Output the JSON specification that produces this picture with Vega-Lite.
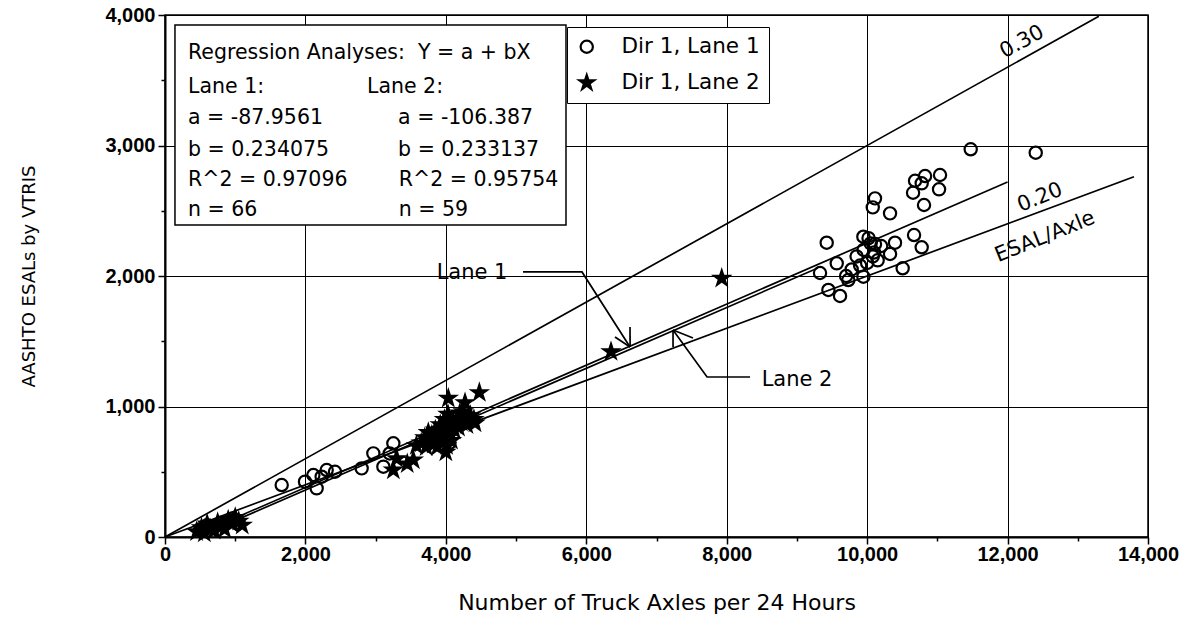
{
  "$schema": "https://vega.github.io/schema/vega-lite/v6.json",
  "width": 983,
  "height": 522,
  "autosize": {"type": "none"},
  "padding": {"left": 165, "top": 15, "right": 50, "bottom": 88},
  "background": "white",
  "config": {
    "font": "DejaVu Sans",
    "view": {"stroke": "black", "strokeWidth": 1.5},
    "axis": {"domainColor": "black", "domainWidth": 2, "tickColor": "black", "tickWidth": 1.5, "gridColor": "black", "gridWidth": 1, "labelColor": "black", "titleColor": "black", "titleFont": "DejaVu Sans", "titleFontWeight": "normal"}
  },
  "datasets": {
    "pts": [
      {"s": "Dir 1, Lane 1", "x": 11475, "y": 2971}, {"s": "Dir 1, Lane 1", "x": 12401, "y": 2945},
      {"s": "Dir 1, Lane 1", "x": 10682, "y": 2730}, {"s": "Dir 1, Lane 1", "x": 10825, "y": 2766},
      {"s": "Dir 1, Lane 1", "x": 11038, "y": 2774}, {"s": "Dir 1, Lane 1", "x": 10777, "y": 2710},
      {"s": "Dir 1, Lane 1", "x": 10654, "y": 2638}, {"s": "Dir 1, Lane 1", "x": 11024, "y": 2664},
      {"s": "Dir 1, Lane 1", "x": 10810, "y": 2544}, {"s": "Dir 1, Lane 1", "x": 10112, "y": 2595},
      {"s": "Dir 1, Lane 1", "x": 10080, "y": 2526}, {"s": "Dir 1, Lane 1", "x": 10326, "y": 2480},
      {"s": "Dir 1, Lane 1", "x": 9424, "y": 2255}, {"s": "Dir 1, Lane 1", "x": 10397, "y": 2255},
      {"s": "Dir 1, Lane 1", "x": 10668, "y": 2314}, {"s": "Dir 1, Lane 1", "x": 10777, "y": 2220},
      {"s": "Dir 1, Lane 1", "x": 10326, "y": 2169}, {"s": "Dir 1, Lane 1", "x": 10506, "y": 2059},
      {"s": "Dir 1, Lane 1", "x": 9946, "y": 2301}, {"s": "Dir 1, Lane 1", "x": 10112, "y": 2245},
      {"s": "Dir 1, Lane 1", "x": 9567, "y": 2097}, {"s": "Dir 1, Lane 1", "x": 9329, "y": 2023},
      {"s": "Dir 1, Lane 1", "x": 9448, "y": 1893}, {"s": "Dir 1, Lane 1", "x": 9614, "y": 1847},
      {"s": "Dir 1, Lane 1", "x": 9946, "y": 1995}, {"s": "Dir 1, Lane 1", "x": 9732, "y": 1969},
      {"s": "Dir 1, Lane 1", "x": 9850, "y": 2150}, {"s": "Dir 1, Lane 1", "x": 9950, "y": 2200},
      {"s": "Dir 1, Lane 1", "x": 10000, "y": 2100}, {"s": "Dir 1, Lane 1", "x": 10050, "y": 2250},
      {"s": "Dir 1, Lane 1", "x": 10100, "y": 2180}, {"s": "Dir 1, Lane 1", "x": 10150, "y": 2120},
      {"s": "Dir 1, Lane 1", "x": 9900, "y": 2080}, {"s": "Dir 1, Lane 1", "x": 10020, "y": 2290},
      {"s": "Dir 1, Lane 1", "x": 9780, "y": 2050}, {"s": "Dir 1, Lane 1", "x": 10200, "y": 2230},
      {"s": "Dir 1, Lane 1", "x": 9700, "y": 2000}, {"s": "Dir 1, Lane 1", "x": 10080, "y": 2150},
      {"s": "Dir 1, Lane 1", "x": 1662, "y": 398}, {"s": "Dir 1, Lane 1", "x": 1994, "y": 424},
      {"s": "Dir 1, Lane 1", "x": 2113, "y": 475}, {"s": "Dir 1, Lane 1", "x": 2160, "y": 373},
      {"s": "Dir 1, Lane 1", "x": 2303, "y": 513}, {"s": "Dir 1, Lane 1", "x": 2421, "y": 500},
      {"s": "Dir 1, Lane 1", "x": 2231, "y": 462}, {"s": "Dir 1, Lane 1", "x": 2801, "y": 526},
      {"s": "Dir 1, Lane 1", "x": 2967, "y": 641}, {"s": "Dir 1, Lane 1", "x": 3110, "y": 539},
      {"s": "Dir 1, Lane 1", "x": 3252, "y": 718}, {"s": "Dir 1, Lane 1", "x": 3200, "y": 640},
      {"s": "Dir 1, Lane 1", "x": 3750, "y": 760}, {"s": "Dir 1, Lane 1", "x": 3850, "y": 800},
      {"s": "Dir 1, Lane 1", "x": 3900, "y": 740}, {"s": "Dir 1, Lane 1", "x": 3950, "y": 820},
      {"s": "Dir 1, Lane 1", "x": 4000, "y": 780}, {"s": "Dir 1, Lane 1", "x": 4050, "y": 720},
      {"s": "Dir 1, Lane 1", "x": 4100, "y": 850}, {"s": "Dir 1, Lane 1", "x": 3980, "y": 700},
      {"s": "Dir 1, Lane 1", "x": 500, "y": 60}, {"s": "Dir 1, Lane 1", "x": 600, "y": 90},
      {"s": "Dir 1, Lane 1", "x": 700, "y": 80}, {"s": "Dir 1, Lane 1", "x": 800, "y": 110},
      {"s": "Dir 1, Lane 1", "x": 900, "y": 120}, {"s": "Dir 1, Lane 1", "x": 950, "y": 140},
      {"s": "Dir 1, Lane 1", "x": 1000, "y": 130}, {"s": "Dir 1, Lane 1", "x": 1050, "y": 110},
      {"s": "Dir 1, Lane 2", "x": 450, "y": 40}, {"s": "Dir 1, Lane 2", "x": 520, "y": 70},
      {"s": "Dir 1, Lane 2", "x": 560, "y": 30}, {"s": "Dir 1, Lane 2", "x": 600, "y": 100},
      {"s": "Dir 1, Lane 2", "x": 650, "y": 60}, {"s": "Dir 1, Lane 2", "x": 700, "y": 50},
      {"s": "Dir 1, Lane 2", "x": 750, "y": 110}, {"s": "Dir 1, Lane 2", "x": 800, "y": 80},
      {"s": "Dir 1, Lane 2", "x": 850, "y": 60}, {"s": "Dir 1, Lane 2", "x": 900, "y": 130},
      {"s": "Dir 1, Lane 2", "x": 950, "y": 100}, {"s": "Dir 1, Lane 2", "x": 1000, "y": 150},
      {"s": "Dir 1, Lane 2", "x": 1050, "y": 120}, {"s": "Dir 1, Lane 2", "x": 1100, "y": 90},
      {"s": "Dir 1, Lane 2", "x": 3252, "y": 513}, {"s": "Dir 1, Lane 2", "x": 3537, "y": 590},
      {"s": "Dir 1, Lane 2", "x": 3450, "y": 560}, {"s": "Dir 1, Lane 2", "x": 3300, "y": 600},
      {"s": "Dir 1, Lane 2", "x": 4035, "y": 1063}, {"s": "Dir 1, Lane 2", "x": 4273, "y": 1029},
      {"s": "Dir 1, Lane 2", "x": 4477, "y": 1106}, {"s": "Dir 1, Lane 2", "x": 4249, "y": 960},
      {"s": "Dir 1, Lane 2", "x": 4415, "y": 873}, {"s": "Dir 1, Lane 2", "x": 4400, "y": 900},
      {"s": "Dir 1, Lane 2", "x": 3650, "y": 720}, {"s": "Dir 1, Lane 2", "x": 3700, "y": 760},
      {"s": "Dir 1, Lane 2", "x": 3720, "y": 690}, {"s": "Dir 1, Lane 2", "x": 3750, "y": 800},
      {"s": "Dir 1, Lane 2", "x": 3780, "y": 740}, {"s": "Dir 1, Lane 2", "x": 3800, "y": 780},
      {"s": "Dir 1, Lane 2", "x": 3820, "y": 710}, {"s": "Dir 1, Lane 2", "x": 3850, "y": 820},
      {"s": "Dir 1, Lane 2", "x": 3870, "y": 760}, {"s": "Dir 1, Lane 2", "x": 3880, "y": 690},
      {"s": "Dir 1, Lane 2", "x": 3900, "y": 800}, {"s": "Dir 1, Lane 2", "x": 3920, "y": 860},
      {"s": "Dir 1, Lane 2", "x": 3940, "y": 740}, {"s": "Dir 1, Lane 2", "x": 3960, "y": 780},
      {"s": "Dir 1, Lane 2", "x": 3980, "y": 900}, {"s": "Dir 1, Lane 2", "x": 4000, "y": 820},
      {"s": "Dir 1, Lane 2", "x": 4000, "y": 650}, {"s": "Dir 1, Lane 2", "x": 4010, "y": 700},
      {"s": "Dir 1, Lane 2", "x": 4020, "y": 760}, {"s": "Dir 1, Lane 2", "x": 4030, "y": 940},
      {"s": "Dir 1, Lane 2", "x": 4050, "y": 860}, {"s": "Dir 1, Lane 2", "x": 4060, "y": 800},
      {"s": "Dir 1, Lane 2", "x": 4080, "y": 740}, {"s": "Dir 1, Lane 2", "x": 4100, "y": 880},
      {"s": "Dir 1, Lane 2", "x": 4120, "y": 820}, {"s": "Dir 1, Lane 2", "x": 4150, "y": 900},
      {"s": "Dir 1, Lane 2", "x": 4180, "y": 840}, {"s": "Dir 1, Lane 2", "x": 4200, "y": 950},
      {"s": "Dir 1, Lane 2", "x": 4220, "y": 880}, {"s": "Dir 1, Lane 2", "x": 4250, "y": 910},
      {"s": "Dir 1, Lane 2", "x": 4300, "y": 860}, {"s": "Dir 1, Lane 2", "x": 4350, "y": 930},
      {"s": "Dir 1, Lane 2", "x": 3580, "y": 700},
      {"s": "Dir 1, Lane 2", "x": 6352, "y": 1420}, {"s": "Dir 1, Lane 2", "x": 7929, "y": 1982}
    ],
    "lines": [
      {"id": "r30", "x": 0, "y": 0}, {"id": "r30", "x": 13300, "y": 3990},
      {"id": "r20", "x": 0, "y": 0}, {"id": "r20", "x": 13800, "y": 2760},
      {"id": "lane1", "x": 450, "y": 17}, {"id": "lane1", "x": 12000, "y": 2721},
      {"id": "lane2", "x": 500, "y": 10}, {"id": "lane2", "x": 9300, "y": 2062},
      {"id": "lead1", "x": 5099, "y": 2031}, {"id": "lead1", "x": 5939, "y": 2031}, {"id": "lead1", "x": 6623, "y": 1456},
      {"id": "lead2", "x": 7235, "y": 1586}, {"id": "lead2", "x": 7720, "y": 1226}, {"id": "lead2", "x": 8332, "y": 1226},
      {"id": "head1a", "x": 6623, "y": 1609}, {"id": "head1a", "x": 6624, "y": 1456},
      {"id": "head1b", "x": 6409, "y": 1533}, {"id": "head1b", "x": 6623, "y": 1456},
      {"id": "head2a", "x": 7235, "y": 1586}, {"id": "head2a", "x": 7236, "y": 1456},
      {"id": "head2b", "x": 7235, "y": 1586}, {"id": "head2b", "x": 7520, "y": 1525}
    ]
  },
  "layer": [
    {
      "data": {"name": "lines"},
      "mark": {"type": "line", "color": "black", "strokeWidth": 1.7},
      "encoding": {
        "x": {"field": "x", "type": "quantitative", "scale": {"domain": [0, 14000], "nice": false},
          "axis": {"title": "Number of Truck Axles per 24 Hours", "titleFontSize": 22, "labelFont": "Liberation Sans", "labelFontSize": 20, "labelFontWeight": "bold", "values": [0,1000,2000,3000,4000,5000,6000,7000,8000,9000,10000,11000,12000,13000,14000],
            "labelExpr": "datum.value % 2000 === 0 ? format(datum.value, ',') : ''",
            "tickSize": {"condition": {"test": "datum.value % 2000 === 0", "value": 7}, "value": 4},
            "gridOpacity": {"condition": {"test": "datum.value % 2000 === 0", "value": 1}, "value": 0},
            "labelPadding": 0, "titlePadding": 28, "labelFlush": false}},
        "y": {"field": "y", "type": "quantitative", "scale": {"domain": [0, 4000], "nice": false},
          "axis": {"title": "AASHTO ESALs by VTRIS", "titleFontSize": 18, "labelFont": "Liberation Sans", "labelFontSize": 20, "labelFontWeight": "bold", "values": [0,500,1000,1500,2000,2500,3000,3500,4000],
            "labelExpr": "datum.value % 1000 === 0 ? format(datum.value, ',') : ''",
            "tickSize": {"condition": {"test": "datum.value % 1000 === 0", "value": 7}, "value": 4},
            "gridOpacity": {"condition": {"test": "datum.value % 1000 === 0", "value": 1}, "value": 0},
            "labelPadding": 3, "titlePadding": 66}},
        "detail": {"field": "id"}
      }
    },
    {
      "data": {"name": "pts"},
      "mark": {"type": "point", "filled": true, "opacity": 1, "stroke": "black", "strokeWidth": 2.2},
      "encoding": {
        "x": {"field": "x", "type": "quantitative"},
        "y": {"field": "y", "type": "quantitative"},
        "shape": {"field": "s", "type": "nominal", "scale": {"domain": ["Dir 1, Lane 1", "Dir 1, Lane 2"], "range": ["circle", "M0,-1L0.225,-0.309L0.951,-0.309L0.363,0.118L0.588,0.809L0,0.382L-0.588,0.809L-0.363,0.118L-0.951,-0.309L-0.225,-0.309Z"]},
          "legend": {"title": null, "orient": "none", "legendX": 402, "legendY": 12, "strokeColor": "black", "fillColor": "white", "padding": 9, "labelFontSize": 21.5, "labelFont": "DejaVu Sans", "labelColor": "black", "rowPadding": 12, "labelOffset": 24, "symbolStrokeColor": "black", "symbolStrokeWidth": 2.2, "labelLimit": 400, "labelExpr": "datum.label + '\u00a0\u00a0\u00a0\u00a0\u00a0'"}},
        "fill": {"field": "s", "type": "nominal", "scale": {"domain": ["Dir 1, Lane 1", "Dir 1, Lane 2"], "range": ["transparent", "black"]}},
        "size": {"field": "s", "type": "nominal", "scale": {"domain": ["Dir 1, Lane 1", "Dir 1, Lane 2"], "range": [150, 240]}}
      }
    },
    {
      "data": {"values": [{"x": 142, "x2": 5711, "y": 3923, "y2": 2391}]},
      "mark": {"type": "rect", "fill": "white", "stroke": "black", "strokeWidth": 1.5},
      "encoding": {
        "x": {"field": "x", "type": "quantitative"}, "x2": {"field": "x2"},
        "y": {"field": "y", "type": "quantitative"}, "y2": {"field": "y2"}
      }
    },
    {
      "data": {"values": [
        {"t": "Regression Analyses:\u00a0 Y = a + bX", "x": 328, "y": 3709},
        {"t": "Lane 1:", "x": 328, "y": 3448},
        {"t": "Lane 2:", "x": 2877, "y": 3448},
        {"t": "a = -87.9561", "x": 328, "y": 3211},
        {"t": "a = -106.387", "x": 3320, "y": 3211},
        {"t": "b = 0.234075", "x": 328, "y": 2966},
        {"t": "b = 0.233137", "x": 3320, "y": 2966},
        {"t": "R^2 = 0.97096", "x": 328, "y": 2736},
        {"t": "R^2 = 0.95754", "x": 3330, "y": 2736},
        {"t": "n = 66", "x": 328, "y": 2506},
        {"t": "n = 59", "x": 3330, "y": 2506}
      ]},
      "mark": {"type": "text", "align": "left", "baseline": "middle", "fontSize": 20.5, "font": "DejaVu Sans", "color": "black"},
      "encoding": {
        "x": {"field": "x", "type": "quantitative"},
        "y": {"field": "y", "type": "quantitative"},
        "text": {"field": "t"}
      }
    },
    {
      "data": {"values": [
        {"t": "Lane 1", "x": 4373, "y": 2023},
        {"t": "Lane 2", "x": 9002, "y": 1203}
      ]},
      "mark": {"type": "text", "align": "center", "baseline": "middle", "fontSize": 21, "font": "DejaVu Sans", "color": "black"},
      "encoding": {
        "x": {"field": "x", "type": "quantitative"},
        "y": {"field": "y", "type": "quantitative"},
        "text": {"field": "t"}
      }
    },
    {
      "data": {"values": [{"t": "0.30", "x": 12206, "y": 3793}]},
      "mark": {"type": "text", "align": "center", "baseline": "middle", "fontSize": 21, "font": "DejaVu Sans", "color": "black", "angle": 331},
      "encoding": {
        "x": {"field": "x", "type": "quantitative"},
        "y": {"field": "y", "type": "quantitative"},
        "text": {"field": "t"}
      }
    },
    {
      "data": {"values": [{"t": "0.20", "x": 12463, "y": 2600}, {"t": "ESAL/Axle", "x": 12534, "y": 2299}]},
      "mark": {"type": "text", "align": "center", "baseline": "middle", "fontSize": 21, "font": "DejaVu Sans", "color": "black", "angle": 338},
      "encoding": {
        "x": {"field": "x", "type": "quantitative"},
        "y": {"field": "y", "type": "quantitative"},
        "text": {"field": "t"}
      }
    }
  ]
}
